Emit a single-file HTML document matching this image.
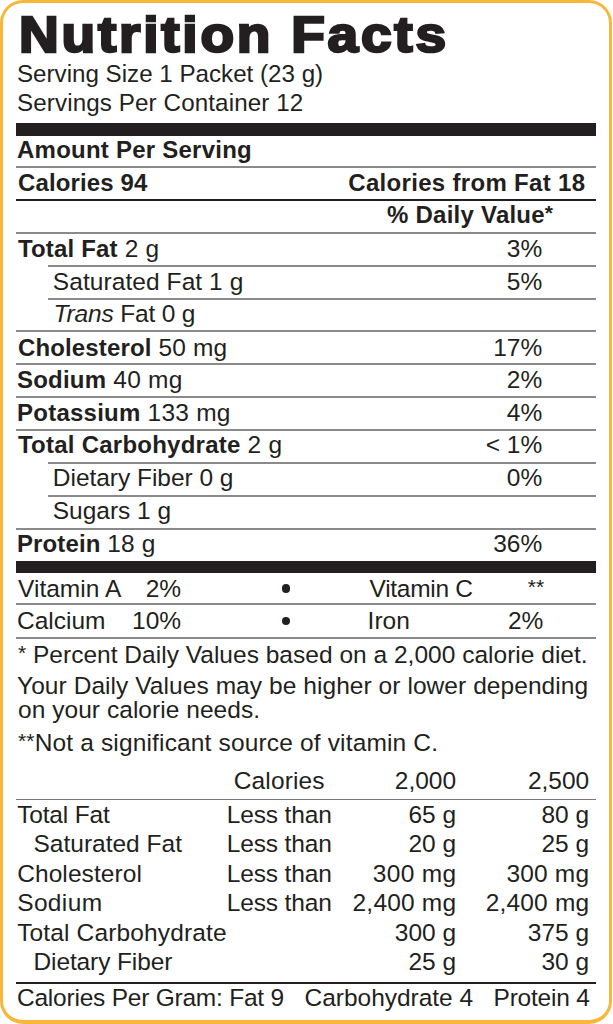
<!DOCTYPE html>
<html><head><meta charset="utf-8"><style>
html,body{margin:0;padding:0;background:#fff;}
body{width:613px;height:1024px;position:relative;overflow:hidden;font-family:"Liberation Sans",sans-serif;color:#231f20;}
.t{position:absolute;white-space:nowrap;}
.t b{font-size:24px;}
.ast{font-size:21px;position:relative;top:-2.5px;}
.dot{position:absolute;width:8.5px;height:8.5px;border-radius:50%;background:#231f20;}
.l{position:absolute;}
.title{font-weight:bold;transform-origin:0 0;transform:scaleX(1.09);-webkit-text-stroke:2.5px #231f20;}
.border{position:absolute;left:0px;top:0px;width:605.5px;height:1016.5px;border:3.5px solid #f6b73a;border-bottom-width:4px;border-radius:23px;}
</style></head><body>
<div class="border"></div>
<div class="t title" style="left:19.10px;top:9.75px;font-size:50.5px;line-height:50.5px;letter-spacing:2.536px;">Nutrition Facts</div>
<div class="t" style="left:17.00px;top:62.11px;font-size:24.2px;line-height:24.2px;letter-spacing:-0.015px;">Serving Size 1 Packet (23 g)</div>
<div class="t" style="left:17.00px;top:91.11px;font-size:24.2px;line-height:24.2px;letter-spacing:0.108px;">Servings Per Container 12</div>
<div class="l" style="left:16px;top:123.00px;width:580px;height:13px;background:#231f20"></div>
<div class="t" style="left:17.00px;top:138.08px;font-size:24px;line-height:24px;letter-spacing:0.235px;"><b>Amount Per Serving</b></div>
<div class="l" style="left:16px;top:166.00px;width:580px;height:2px;background:#8a8a8a"></div>
<div class="t" style="left:18.00px;top:170.88px;font-size:24px;line-height:24px;letter-spacing:0.120px;"><b>Calories 94</b></div>
<div class="t" style="right:27.68px;top:170.88px;font-size:24px;line-height:24px;letter-spacing:0.316px;"><b>Calories from Fat 18</b></div>
<div class="l" style="left:16px;top:199.00px;width:580px;height:2px;background:#231f20"></div>
<div class="t" style="right:59.77px;top:202.88px;font-size:24px;line-height:24px;letter-spacing:0.231px;"><b>% Daily Value<span class="ast">*</span></b></div>
<div class="l" style="left:16px;top:231.50px;width:580px;height:2px;background:#8a8a8a"></div>
<div class="l" style="left:48px;top:264.50px;width:548px;height:2px;background:#8a8a8a"></div>
<div class="l" style="left:48px;top:297.50px;width:548px;height:2px;background:#8a8a8a"></div>
<div class="l" style="left:16px;top:330.20px;width:580px;height:2px;background:#8a8a8a"></div>
<div class="l" style="left:16px;top:363.20px;width:580px;height:2px;background:#8a8a8a"></div>
<div class="l" style="left:16px;top:395.90px;width:580px;height:2px;background:#8a8a8a"></div>
<div class="l" style="left:16px;top:428.80px;width:580px;height:2px;background:#8a8a8a"></div>
<div class="l" style="left:48px;top:461.80px;width:548px;height:2px;background:#8a8a8a"></div>
<div class="l" style="left:48px;top:494.50px;width:548px;height:2px;background:#8a8a8a"></div>
<div class="l" style="left:16px;top:528.00px;width:580px;height:2px;background:#8a8a8a"></div>
<div class="t" style="left:18.00px;top:236.76px;font-size:24.5px;line-height:24.5px;letter-spacing:0.167px;"><b>Total Fat</b> 2 g</div>
<div class="t" style="right:70.80px;top:236.76px;font-size:24.5px;line-height:24.5px;letter-spacing:0.000px;">3%</div>
<div class="t" style="left:52.80px;top:269.56px;font-size:24.5px;line-height:24.5px;letter-spacing:0.075px;">Saturated Fat 1 g</div>
<div class="t" style="right:70.80px;top:269.56px;font-size:24.5px;line-height:24.5px;letter-spacing:0.000px;">5%</div>
<div class="t" style="left:53.60px;top:302.26px;font-size:24.5px;line-height:24.5px;letter-spacing:-0.167px;"><i>Trans</i> Fat 0 g</div>
<div class="t" style="left:18.00px;top:335.56px;font-size:24.5px;line-height:24.5px;letter-spacing:0.137px;"><b>Cholesterol</b> 50 mg</div>
<div class="t" style="right:70.80px;top:335.56px;font-size:24.5px;line-height:24.5px;letter-spacing:0.000px;">17%</div>
<div class="t" style="left:17.00px;top:368.06px;font-size:24.5px;line-height:24.5px;letter-spacing:0.218px;"><b>Sodium</b> 40 mg</div>
<div class="t" style="right:70.80px;top:368.06px;font-size:24.5px;line-height:24.5px;letter-spacing:0.000px;">2%</div>
<div class="t" style="left:17.00px;top:400.86px;font-size:24.5px;line-height:24.5px;letter-spacing:0.240px;"><b>Potassium</b> 133 mg</div>
<div class="t" style="right:70.80px;top:400.86px;font-size:24.5px;line-height:24.5px;letter-spacing:0.000px;">4%</div>
<div class="t" style="left:18.00px;top:433.46px;font-size:24.5px;line-height:24.5px;letter-spacing:0.238px;"><b>Total Carbohydrate</b> 2 g</div>
<div class="t" style="right:70.80px;top:433.46px;font-size:24.5px;line-height:24.5px;letter-spacing:0.000px;">&lt; 1%</div>
<div class="t" style="left:52.80px;top:466.06px;font-size:24.5px;line-height:24.5px;letter-spacing:-0.025px;">Dietary Fiber 0 g</div>
<div class="t" style="right:70.80px;top:466.06px;font-size:24.5px;line-height:24.5px;letter-spacing:0.000px;">0%</div>
<div class="t" style="left:52.80px;top:498.76px;font-size:24.5px;line-height:24.5px;letter-spacing:-0.022px;">Sugars 1 g</div>
<div class="t" style="left:17.00px;top:531.76px;font-size:24.5px;line-height:24.5px;letter-spacing:0.109px;"><b>Protein</b> 18 g</div>
<div class="t" style="right:70.80px;top:531.76px;font-size:24.5px;line-height:24.5px;letter-spacing:0.000px;">36%</div>
<div class="l" style="left:16px;top:561.00px;width:580px;height:12px;background:#231f20"></div>
<div class="t" style="left:18.00px;top:576.86px;font-size:24.5px;line-height:24.5px;letter-spacing:0.025px;">Vitamin A</div>
<div class="t" style="right:431.90px;top:576.86px;font-size:24.5px;line-height:24.5px;letter-spacing:0.000px;">2%</div>
<div class="dot" style="left:281.75px;top:584.15px"></div>
<div class="t" style="left:369.60px;top:576.86px;font-size:24.5px;line-height:24.5px;letter-spacing:-0.300px;">Vitamin C</div>
<div class="t" style="right:68.80px;top:576.86px;font-size:24.5px;line-height:24.5px;letter-spacing:0.000px;"><span class="ast">**</span></div>
<div class="l" style="left:16px;top:603.00px;width:580px;height:2px;background:#8a8a8a"></div>
<div class="t" style="left:17.00px;top:609.16px;font-size:24.5px;line-height:24.5px;letter-spacing:0.000px;">Calcium</div>
<div class="t" style="right:431.90px;top:609.16px;font-size:24.5px;line-height:24.5px;letter-spacing:0.000px;">10%</div>
<div class="dot" style="left:281.75px;top:616.75px"></div>
<div class="t" style="left:367.60px;top:609.16px;font-size:24.5px;line-height:24.5px;letter-spacing:0.000px;">Iron</div>
<div class="t" style="right:69.60px;top:609.16px;font-size:24.5px;line-height:24.5px;letter-spacing:0.000px;">2%</div>
<div class="l" style="left:16px;top:637.00px;width:580px;height:2px;background:#8a8a8a"></div>
<div class="t" style="left:18.00px;top:642.76px;font-size:24.5px;line-height:24.5px;letter-spacing:0.015px;"><span class="ast">*</span> Percent Daily Values based on a 2,000 calorie diet.</div>
<div class="t" style="left:17.00px;top:673.86px;font-size:24.5px;line-height:24.5px;letter-spacing:0.065px;">Your Daily Values may be higher or lower depending</div>
<div class="t" style="left:18.00px;top:698.46px;font-size:24.5px;line-height:24.5px;letter-spacing:0.048px;">on your calorie needs.</div>
<div class="t" style="left:18.00px;top:730.76px;font-size:24.5px;line-height:24.5px;letter-spacing:0.154px;"><span class="ast">**</span>Not a significant source of vitamin C.</div>
<div class="t" style="right:288.26px;top:769.46px;font-size:24.5px;line-height:24.5px;letter-spacing:0.143px;">Calories</div>
<div class="t" style="right:156.90px;top:769.46px;font-size:24.5px;line-height:24.5px;letter-spacing:0.000px;">2,000</div>
<div class="t" style="right:23.95px;top:769.46px;font-size:24.5px;line-height:24.5px;letter-spacing:-0.050px;">2,500</div>
<div class="l" style="left:16px;top:798.80px;width:580px;height:1.6px;background:#777"></div>
<div class="t" style="left:17.20px;top:802.66px;font-size:24.5px;line-height:24.5px;letter-spacing:-0.175px;">Total Fat</div>
<div class="t" style="left:226.80px;top:802.66px;font-size:24.5px;line-height:24.5px;letter-spacing:-0.150px;">Less than</div>
<div class="t" style="right:156.90px;top:802.66px;font-size:24.5px;line-height:24.5px;letter-spacing:0.000px;">65 g</div>
<div class="t" style="right:23.90px;top:802.66px;font-size:24.5px;line-height:24.5px;letter-spacing:0.000px;">80 g</div>
<div class="t" style="left:33.50px;top:832.18px;font-size:24.5px;line-height:24.5px;letter-spacing:0.000px;">Saturated Fat</div>
<div class="t" style="left:226.80px;top:832.18px;font-size:24.5px;line-height:24.5px;letter-spacing:-0.150px;">Less than</div>
<div class="t" style="right:156.90px;top:832.18px;font-size:24.5px;line-height:24.5px;letter-spacing:0.000px;">20 g</div>
<div class="t" style="right:23.90px;top:832.18px;font-size:24.5px;line-height:24.5px;letter-spacing:0.000px;">25 g</div>
<div class="t" style="left:17.20px;top:861.70px;font-size:24.5px;line-height:24.5px;letter-spacing:0.080px;">Cholesterol</div>
<div class="t" style="left:226.80px;top:861.70px;font-size:24.5px;line-height:24.5px;letter-spacing:-0.150px;">Less than</div>
<div class="t" style="right:156.58px;top:861.70px;font-size:24.5px;line-height:24.5px;letter-spacing:0.320px;">300 mg</div>
<div class="t" style="right:23.70px;top:861.70px;font-size:24.5px;line-height:24.5px;letter-spacing:0.200px;">300 mg</div>
<div class="t" style="left:17.20px;top:891.22px;font-size:24.5px;line-height:24.5px;letter-spacing:0.360px;">Sodium</div>
<div class="t" style="left:226.80px;top:891.22px;font-size:24.5px;line-height:24.5px;letter-spacing:-0.150px;">Less than</div>
<div class="t" style="right:156.70px;top:891.22px;font-size:24.5px;line-height:24.5px;letter-spacing:0.200px;">2,400 mg</div>
<div class="t" style="right:23.73px;top:891.22px;font-size:24.5px;line-height:24.5px;letter-spacing:0.171px;">2,400 mg</div>
<div class="t" style="left:17.20px;top:920.74px;font-size:24.5px;line-height:24.5px;letter-spacing:0.141px;">Total Carbohydrate</div>
<div class="t" style="right:156.90px;top:920.74px;font-size:24.5px;line-height:24.5px;letter-spacing:0.000px;">300 g</div>
<div class="t" style="right:23.90px;top:920.74px;font-size:24.5px;line-height:24.5px;letter-spacing:0.000px;">375 g</div>
<div class="t" style="left:33.50px;top:950.26px;font-size:24.5px;line-height:24.5px;letter-spacing:-0.117px;">Dietary Fiber</div>
<div class="t" style="right:156.90px;top:950.26px;font-size:24.5px;line-height:24.5px;letter-spacing:0.000px;">25 g</div>
<div class="t" style="right:23.90px;top:950.26px;font-size:24.5px;line-height:24.5px;letter-spacing:0.000px;">30 g</div>
<div class="l" style="left:16px;top:982.00px;width:580px;height:2px;background:#231f20"></div>
<div class="t" style="left:17.00px;top:986.16px;font-size:24.5px;line-height:24.5px;letter-spacing:-0.226px;">Calories Per Gram: Fat 9</div>
<div class="t" style="left:304.60px;top:986.16px;font-size:24.5px;line-height:24.5px;letter-spacing:-0.031px;">Carbohydrate 4</div>
<div class="t" style="right:23.42px;top:986.16px;font-size:24.5px;line-height:24.5px;letter-spacing:-0.225px;">Protein 4</div>
</body></html>
